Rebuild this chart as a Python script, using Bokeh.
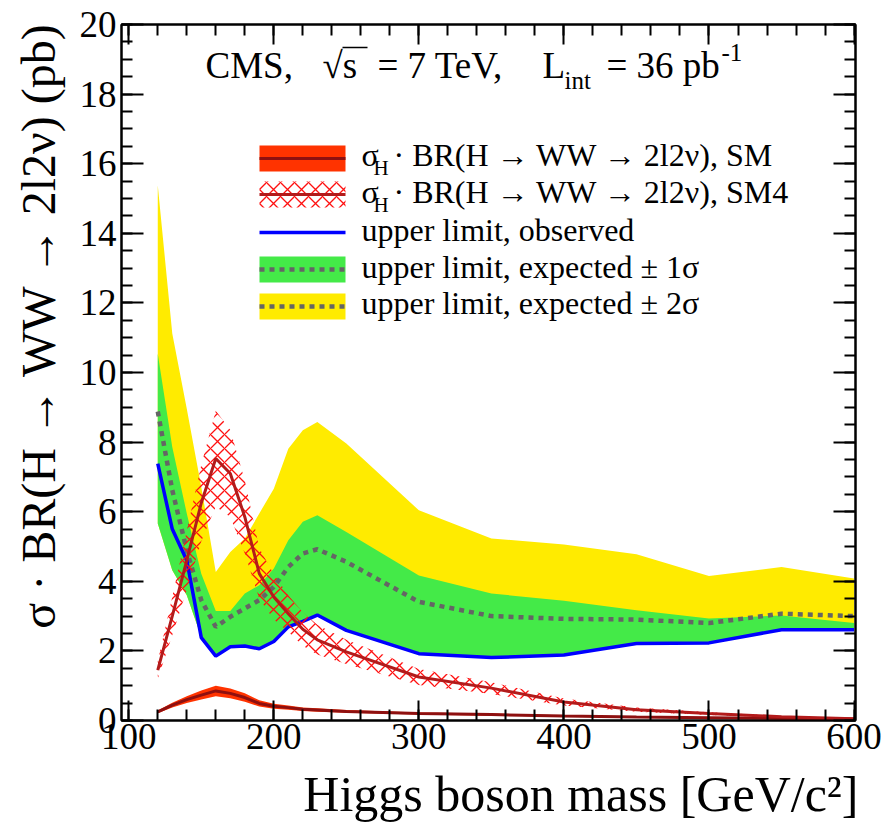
import math
from bokeh.plotting import figure
from bokeh.models import (Range1d, LinearAxis, SingleIntervalTicker, Label, Title,
                          CustomJSTickFormatter)
from bokeh.embed import file_html
from bokeh.resources import INLINE

# ---------------- data ----------------
mass = [120, 130, 140, 150, 160, 170, 180, 190, 200, 210, 220, 230, 250,
        300, 350, 400, 450, 500, 550, 600]

observed = [7.38, 5.50, 4.60, 2.38, 1.85, 2.12, 2.14, 2.06, 2.27, 2.69, 2.85,
            3.03, 2.59, 1.92, 1.81, 1.88, 2.21, 2.23, 2.61, 2.61]
expected = [8.88, 6.62, 4.89, 3.46, 2.69, 2.98, 3.22, 3.46, 3.84, 4.41, 4.80,
            4.92, 4.56, 3.41, 3.00, 2.92, 2.90, 2.80, 3.07, 3.00]
exp_lo = [5.66, 4.32, 3.60, 2.40, 1.87, 2.14, 2.16, 2.08, 2.29, 2.71, 2.87,
          3.05, 2.61, 1.94, 1.83, 1.90, 2.23, 2.25, 2.63, 2.63]
exp_p1 = [10.54, 7.86, 5.95, 4.22, 3.15, 3.15, 3.65, 3.89, 4.37, 5.18, 5.71,
          5.90, 5.42, 4.17, 3.65, 3.44, 3.17, 2.93, 3.02, 2.80]
exp_p2 = [15.38, 11.12, 8.96, 6.71, 4.27, 4.84, 5.23, 5.95, 6.66, 7.81, 8.34,
          8.58, 7.96, 6.04, 5.23, 5.06, 4.78, 4.15, 4.41, 4.08]

sm4 = [1.45, 3.00, 4.60, 6.25, 7.53, 7.10, 5.85, 4.22, 3.55, 3.07, 2.62,
       2.32, 1.97, 1.25, 0.93, 0.53, 0.31, 0.20, 0.11, 0.05]
sm4_hi = [1.70, 3.55, 5.45, 7.35, 8.90, 8.35, 6.90, 4.95, 4.20, 3.60, 3.10,
          2.75, 2.32, 1.48, 1.10, 0.63, 0.37, 0.24, 0.13, 0.06]
sm4_lo = [1.20, 2.45, 3.75, 5.15, 6.15, 5.85, 4.80, 3.50, 2.90, 2.55, 2.15,
          1.90, 1.62, 1.02, 0.76, 0.43, 0.25, 0.16, 0.09, 0.04]

sm = [0.25, 0.44, 0.60, 0.73, 0.85, 0.78, 0.66, 0.49, 0.41, 0.37, 0.32,
      0.30, 0.26, 0.20, 0.17, 0.13, 0.10, 0.08, 0.06, 0.04]
sm_hi = [0.29, 0.51, 0.70, 0.86, 1.00, 0.92, 0.78, 0.58, 0.48, 0.43, 0.37,
         0.35, 0.30, 0.23, 0.20, 0.15, 0.12, 0.09, 0.07, 0.05]
sm_lo = [0.21, 0.37, 0.50, 0.60, 0.70, 0.64, 0.54, 0.40, 0.34, 0.31, 0.27,
         0.25, 0.22, 0.17, 0.14, 0.11, 0.08, 0.07, 0.05, 0.03]

legend_labels = ["upper limit, observed",
                 "upper limit, expected \u00b1 1\u03c3",
                 "upper limit, expected \u00b1 2\u03c3"]

# ---------------- styling ----------------
FONT = "Liberation Serif"
YELLOW = "#FFEB00"
GREEN = "#44EA48"
RED_BAND = "#FF3300"
SM_LINE = "#8E1010"
SM4_LINE = "#B31B1B"
BLUE = "#0000FF"
DASH = "#656565"

X0, X1, Y0, Y1 = 95, 601, 0, 20
FW, FH = 734, 696

p = figure(frame_width=FW, frame_height=FH, x_range=Range1d(X0, X1),
           y_range=Range1d(Y0, Y1), output_backend="svg", toolbar_location=None,
           min_border_left=121, min_border_right=33, min_border_top=24,
           min_border_bottom=103)
p.xgrid.visible = False
p.ygrid.visible = False
p.outline_line_color = "black"
p.outline_line_width = 2
p.background_fill_color = "white"
p.border_fill_color = "white"


def style_axis(ax, ticker, major_len, labels=True):
    ax.ticker = ticker
    ax.axis_line_width = 2
    ax.major_tick_line_width = 2
    ax.minor_tick_line_width = 2
    ax.major_tick_in = major_len
    ax.major_tick_out = 0
    ax.minor_tick_in = 11
    ax.minor_tick_out = 0
    ax.major_label_text_font = FONT
    ax.major_label_text_font_size = "37px"
    ax.major_label_text_color = "black"
    if not labels:
        ax.formatter = CustomJSTickFormatter(code="return ''")


style_axis(p.xaxis[0], SingleIntervalTicker(interval=100, num_minor_ticks=5), 20)
p.xaxis[0].major_label_standoff = 3
style_axis(p.yaxis[0], SingleIntervalTicker(interval=2, num_minor_ticks=4), 22)
p.yaxis[0].major_label_standoff = 5

top_ax = LinearAxis()
style_axis(top_ax, SingleIntervalTicker(interval=100, num_minor_ticks=5), 20, labels=False)
p.add_layout(top_ax, "above")
right_ax = LinearAxis()
style_axis(right_ax, SingleIntervalTicker(interval=2, num_minor_ticks=4), 22, labels=False)
p.add_layout(right_ax, "right")

# ---------------- axis titles ----------------
xt = Title(text="Higgs boson mass [GeV/c\u00b2]", align="right", text_font=FONT,
           text_font_size="50px", text_font_style="normal", text_color="black",
           standoff=24, offset=-3)
p.add_layout(xt, "below")
yt = Title(text="\u03c3 \u00b7 BR(H \u2192 WW \u2192 2l2\u03bd) (pb)", align="right",
           vertical_align="top", text_font=FONT, text_font_size="48px",
           text_font_style="normal", text_color="black", standoff=20, offset=-2)
p.add_layout(yt, "left")

# ---------------- bands and curves ----------------
p.varea(x=mass, y1=exp_lo, y2=exp_p2, fill_color=YELLOW, fill_alpha=1)
p.varea(x=mass, y1=exp_lo, y2=exp_p1, fill_color=GREEN, fill_alpha=1)
p.line(mass, expected, line_color=DASH, line_width=4.5, line_dash="5 5")
p.line(mass, observed, line_color=BLUE, line_width=3.5)

p.varea(x=mass, y1=sm_lo, y2=sm_hi, fill_color=RED_BAND, fill_alpha=1)
p.line(mass, sm, line_color=SM_LINE, line_width=3)

p.varea(x=mass, y1=sm4_lo, y2=sm4_hi, fill_alpha=0, fill_color=None,
        hatch_pattern="diagonal_cross", hatch_color="#FF1010",
        hatch_scale=14, hatch_weight=1.3)
p.line(mass, sm4, line_color=SM4_LINE, line_width=3)


# ---------------- legend (layout in frame pixels) ----------------
def dx(fx):  # frame pixel from left -> data x
    return X0 + fx * (X1 - X0) / FW


def dy(fy):  # frame pixel from bottom -> data y
    return Y0 + fy * (Y1 - Y0) / FH


sw_l, sw_r = 138, 224             # swatch left/right (frame px)
rows = [562, 526, 488, 451, 414]  # row centres (frame px from bottom)
half = 13

p.quad(left=[dx(sw_l)], right=[dx(sw_r)], bottom=[dy(rows[0] - half)],
       top=[dy(rows[0] + half)], fill_color=RED_BAND, line_color=None)
p.line([dx(sw_l), dx(sw_r)], [dy(rows[0])] * 2, line_color=SM_LINE, line_width=3)

p.quad(left=[dx(sw_l)], right=[dx(sw_r)], bottom=[dy(rows[1] - half)],
       top=[dy(rows[1] + half)], fill_color=None, fill_alpha=0, line_color=None,
       hatch_pattern="diagonal_cross", hatch_color="#FF1010", hatch_scale=14,
       hatch_weight=1.3)
p.line([dx(sw_l), dx(sw_r)], [dy(rows[1])] * 2, line_color=SM4_LINE, line_width=3)

p.line([dx(sw_l), dx(sw_r)], [dy(rows[2])] * 2, line_color=BLUE, line_width=3.5)

p.quad(left=[dx(sw_l)], right=[dx(sw_r)], bottom=[dy(rows[3] - half)],
       top=[dy(rows[3] + half)], fill_color=GREEN, line_color=None)
p.line([dx(sw_l), dx(sw_r)], [dy(rows[3])] * 2, line_color=DASH, line_width=4.5,
       line_dash="5 5")
p.quad(left=[dx(sw_l)], right=[dx(sw_r)], bottom=[dy(rows[4] - half)],
       top=[dy(rows[4] + half)], fill_color=YELLOW, line_color=None)
p.line([dx(sw_l), dx(sw_r)], [dy(rows[4])] * 2, line_color=DASH, line_width=4.5,
       line_dash="5 5")


def lab(text, x, base_y, size):
    """Text whose alphabetic baseline sits at frame pixel base_y."""
    p.add_layout(Label(x=x, y=base_y + 0.34 * size, x_units="screen", y_units="screen",
                       text=text, text_font=FONT, text_font_size=f"{size}px",
                       text_color="black", text_align="left", text_baseline="middle"))


tx = 240
base = [555, 518, 480, 443, 407]
for i, suffix in enumerate(["SM", "SM4"]):
    lab("\u03c3", tx, base[i], 32)
    lab("H", tx + 12, base[i] - 10, 21)
    lab(" \u00b7 BR(H \u2192 WW \u2192 2l2\u03bd), " + suffix, tx + 32, base[i], 32)
for i, t in enumerate(legend_labels):
    lab(t, tx, base[i + 2], 32)

# ---------------- header ----------------
lab("CMS,", 84, 642, 37)
lab("\u221as", 201, 642, 37)
p.segment(x0=[dx(221)], y0=[dy(673)], x1=[dx(246)], y1=[dy(673)],
          line_color="black", line_width=1.5)
lab("= 7 TeV,", 256, 642, 37)
lab("L", 421, 642, 37)
lab("int", 443, 632, 25)
lab("= 36 pb", 485, 642, 37)
lab("-1", 600, 660, 25)

open("out.html", "w").write(file_html(p, INLINE))
